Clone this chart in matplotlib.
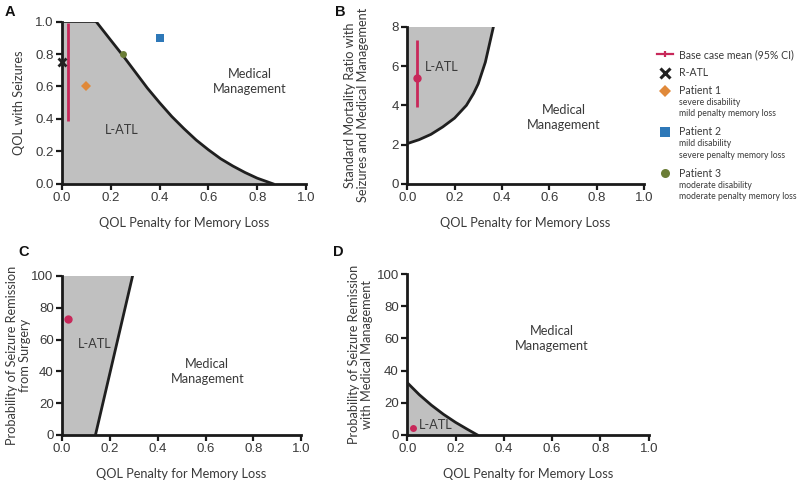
import matplotlib
matplotlib.use("Agg")
import matplotlib.pyplot as plt
from matplotlib.lines import Line2D

# ---------------- data ----------------
x_ticks = [0.0, 0.2, 0.4, 0.6, 0.8, 1.0]

# Panel A: threshold curve (QOL penalty vs QOL with seizures)
a_curve_x = [0.14, 0.2, 0.25, 0.3, 0.35, 0.4, 0.45, 0.5, 0.55, 0.6, 0.65, 0.7, 0.75, 0.8, 0.865]
a_curve_y = [1.00, 0.885, 0.79, 0.69, 0.59, 0.50, 0.415, 0.34, 0.27, 0.21, 0.155, 0.11, 0.07, 0.035, 0.0]
a_ci_x = 0.026
a_ci_low, a_ci_high = 0.385, 0.99
ratl_x, ratl_y = 0.0, 0.75
p1_x, p1_y = 0.10, 0.60
p2_x, p2_y = 0.40, 0.90
p3_x, p3_y = 0.25, 0.80

# Panel B: threshold curve (SMR)
b_curve_x = [0.0, 0.05, 0.1, 0.15, 0.2, 0.25, 0.28, 0.3, 0.33, 0.364]
b_curve_y = [2.05, 2.25, 2.52, 2.9, 3.35, 4.0, 4.6, 5.1, 6.2, 8.0]
b_mean_x, b_mean_y = 0.041, 5.39
b_ci_low, b_ci_high = 3.9, 7.35

# Panel C: threshold line (probability of remission from surgery)
c_curve_x = [0.14, 0.295]
c_curve_y = [0.0, 100.0]
c_mean_x, c_mean_y = 0.024, 73.0
c_ci_low, c_ci_high = 71.0, 75.0

# Panel D: threshold curve (remission with medical management)
d_curve_x = [0.0, 0.05, 0.1, 0.15, 0.2, 0.25, 0.29]
d_curve_y = [32.5, 25.0, 18.5, 12.8, 7.8, 3.4, 0.0]
d_mean_x, d_mean_y = 0.023, 4.2

# ---------------- style ----------------
TXT = "#3a3a3a"
GRAY = "#c0c0c0"
RED = "#c8285a"
ORANGE = "#e0893a"
BLUE = "#2e78b8"
GREEN = "#6b7d36"
LBL_FONT = ["Lato", "DejaVu Sans"]
TICK_FONT = ["Liberation Sans", "DejaVu Sans"]
LBL_SIZE = 9.2

fig = plt.figure(figsize=(8, 4.8), dpi=100)

def style_axes(ax, ylim, yticks, yfmt, ylabel):
    ax.set_xlim(0, 1.0)
    ax.set_ylim(*ylim)
    ax.set_xticks(x_ticks)
    ax.set_xticklabels([f"{t:.1f}" for t in x_ticks])
    ax.set_yticks(yticks)
    ax.set_yticklabels([yfmt(t) for t in yticks])
    for s in ["top", "right"]:
        ax.spines[s].set_visible(False)
    for s in ["left", "bottom"]:
        ax.spines[s].set_linewidth(2.0)
        ax.spines[s].set_color("#1a1a1a")
    ax.tick_params(direction="out", length=4, width=1.6, color="#1a1a1a",
                   labelsize=9.5, labelcolor=TXT, pad=2)
    for lab in ax.get_xticklabels() + ax.get_yticklabels():
        lab.set_family(TICK_FONT)
    ax.set_xlabel("QOL Penalty for Memory Loss", fontsize=LBL_SIZE, color=TXT,
                  family=LBL_FONT, labelpad=9)
    ax.set_ylabel(ylabel, fontsize=LBL_SIZE, color=TXT, family=LBL_FONT,
                  linespacing=1.1)

# ---- Panel A ----
axA = fig.add_axes([0.0775, 0.617, 0.305, 0.338])
polyA_x = [0.0, 0.0] + a_curve_x
polyA_y = [0.0, 1.0] + a_curve_y
axA.fill(polyA_x, polyA_y, color=GRAY, zorder=1, lw=0)
axA.plot(a_curve_x, a_curve_y, color="#1f1f1f", lw=2.0, zorder=3, solid_joinstyle="round")
axA.plot([0, a_curve_x[0]], [1.0, 1.0], color="#1f1f1f", lw=1.2, zorder=3)
axA.vlines(a_ci_x, a_ci_low, a_ci_high, color=RED, lw=2.0, zorder=4)
axA.plot([ratl_x], [ratl_y], marker="x", color="#222222", ms=6, mew=2, zorder=6, clip_on=False)
axA.plot([p1_x], [p1_y], marker="D", color=ORANGE, ms=5, mew=0, zorder=5)
axA.plot([p2_x], [p2_y], marker="s", color=BLUE, ms=6, mew=0, zorder=5)
axA.plot([p3_x], [p3_y], marker="o", color=GREEN, ms=5, mew=0, zorder=5)
axA.text(0.245, 0.333, "L-ATL", fontsize=LBL_SIZE, color=TXT, family=LBL_FONT, ha="center", va="center")
axA.text(0.77, 0.63, "Medical\nManagement", fontsize=LBL_SIZE, color=TXT, family=LBL_FONT,
         ha="center", va="center", linespacing=1.3)
style_axes(axA, (0, 1.0), [0, 0.2, 0.4, 0.6, 0.8, 1.0], lambda t: f"{t:.1f}",
           "QOL with Seizures")
axA.yaxis.set_label_coords(-0.15, 0.5)

# ---- Panel B ----
axB = fig.add_axes([0.509, 0.617, 0.296, 0.327])
polyB_x = [0.0] + b_curve_x
polyB_y = [8.0] + b_curve_y
axB.fill(polyB_x, polyB_y, color=GRAY, zorder=1, lw=0)
axB.plot(b_curve_x, b_curve_y, color="#1f1f1f", lw=2.0, zorder=3, solid_joinstyle="round")
axB.errorbar([b_mean_x], [b_mean_y], yerr=[[b_mean_y - b_ci_low], [b_ci_high - b_mean_y]],
             fmt="o", color=RED, ms=5, elinewidth=2.0, capsize=0, zorder=5)
axB.text(0.146, 5.93, "L-ATL", fontsize=LBL_SIZE, color=TXT, family=LBL_FONT, ha="center", va="center")
axB.text(0.66, 3.37, "Medical\nManagement", fontsize=LBL_SIZE, color=TXT, family=LBL_FONT,
         ha="center", va="center", linespacing=1.3)
style_axes(axB, (0, 8), [0, 2, 4, 6, 8], lambda t: f"{t:d}",
           "Standard Mortality Ratio with\nSeizures and Medical Management")
axB.yaxis.set_label_coords(-0.16, 0.5)

# ---- Panel C ----
axC = fig.add_axes([0.0775, 0.094, 0.299, 0.331])
polyC_x = [0.0, 0.0] + c_curve_x[::-1]
polyC_y = [0.0, 100.0] + c_curve_y[::-1]
axC.fill(polyC_x, polyC_y, color=GRAY, zorder=1, lw=0)
axC.plot(c_curve_x, c_curve_y, color="#1f1f1f", lw=2.0, zorder=3)
axC.errorbar([c_mean_x], [c_mean_y], yerr=[[c_mean_y - c_ci_low], [c_ci_high - c_mean_y]],
             fmt="o", color=RED, ms=5, elinewidth=2.0, capsize=0, zorder=5)
axC.text(0.135, 57, "L-ATL", fontsize=LBL_SIZE, color=TXT, family=LBL_FONT, ha="center", va="center")
axC.text(0.607, 40, "Medical\nManagement", fontsize=LBL_SIZE, color=TXT, family=LBL_FONT,
         ha="center", va="center", linespacing=1.3)
style_axes(axC, (0, 100), [0, 20, 40, 60, 80, 100], lambda t: f"{t:d}",
           "Probability of Seizure Remission\nfrom Surgery")
axC.yaxis.set_label_coords(-0.13, 0.5)

# ---- Panel D ----
axD = fig.add_axes([0.509, 0.094, 0.302, 0.335])
polyD_x = [0.0] + d_curve_x
polyD_y = [0.0] + d_curve_y
axD.fill(polyD_x, polyD_y, color=GRAY, zorder=1, lw=0)
axD.plot(d_curve_x, d_curve_y, color="#1f1f1f", lw=2.0, zorder=3, solid_joinstyle="round")
axD.plot([d_mean_x], [d_mean_y], marker="o", color=RED, ms=5, mew=0, zorder=5)
axD.text(0.05, 6.2, "L-ATL", fontsize=LBL_SIZE, color=TXT, family=LBL_FONT, ha="left", va="center")
axD.text(0.598, 60, "Medical\nManagement", fontsize=LBL_SIZE, color=TXT, family=LBL_FONT,
         ha="center", va="center", linespacing=1.3)
style_axes(axD, (0, 100), [0, 20, 40, 60, 80, 100], lambda t: f"{t:d}",
           "Probability of Seizure Remission\nwith Medical Management")
axD.yaxis.set_label_coords(-0.14, 0.5)

# ---- panel letters ----
for lx, ly, letter in [(5, 12, "A"), (335, 12, "B"), (18, 252, "C"), (333, 252, "D")]:
    fig.text(lx / 800, 1 - ly / 480, letter, fontsize=10.5, fontweight="bold",
             family=TICK_FONT, color="#111111", ha="left", va="center")

# ---- legend (manual) ----
def fx(px):
    return px / 800
def fy(py):
    return 1 - py / 480

mk_x = 665
tx_x = 679
fig.add_artist(Line2D([fx(657), fx(673)], [fy(54.3), fy(54.3)], color=RED, lw=1.6))
fig.add_artist(Line2D([fx(mk_x)], [fy(54.3)], marker="|", color=RED, ms=4, mew=1.6))
fig.add_artist(Line2D([fx(mk_x)], [fy(72.7)], marker="x", color="#222222", ms=7, mew=2.2))
fig.add_artist(Line2D([fx(mk_x)], [fy(90.7)], marker="D", color=ORANGE, ms=6, mew=0))
fig.add_artist(Line2D([fx(mk_x)], [fy(131.7)], marker="s", color=BLUE, ms=7, mew=0))
fig.add_artist(Line2D([fx(mk_x)], [fy(173.3)], marker="o", color=GREEN, ms=6.5, mew=0))

legend_main = [(54.3, "Base case mean (95% CI)"), (72.7, "R-ATL"), (90.7, "Patient 1"),
               (131.7, "Patient 2"), (173.3, "Patient 3")]
legend_sub = [(102.7, "severe disability"), (114, "mild penalty memory loss"),
              (144, "mild disability"), (155, "severe penalty memory loss"),
              (185, "moderate disability"), (196.7, "moderate penalty memory loss")]
for py, t in legend_main:
    fig.text(fx(tx_x), fy(py), t, fontsize=7.6, color=TXT, family=LBL_FONT, va="center", ha="left")
for py, t in legend_sub:
    fig.text(fx(tx_x), fy(py), t, fontsize=6.2, color=TXT, family=LBL_FONT, va="center", ha="left")

fig.savefig("out.png", dpi=100)
